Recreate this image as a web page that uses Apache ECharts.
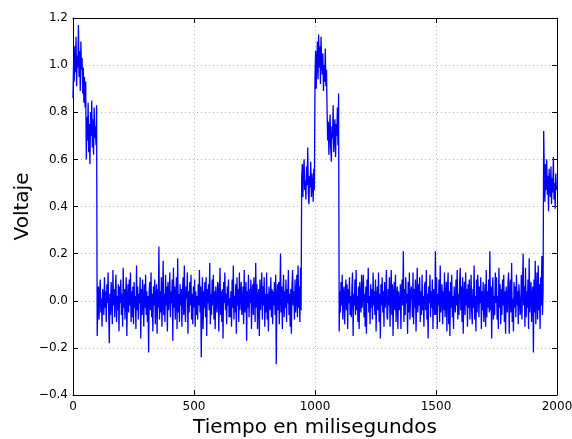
<!DOCTYPE html>
<html>
<head>
<meta charset="utf-8">
<script src="https://cdn.jsdelivr.net/npm/echarts@6/dist/echarts.min.js"></script>
<style>
  html, body { margin: 0; padding: 0; background: #fff; }
  #chart { width: 572px; height: 439px; }
</style>
</head>
<body>
<div id="chart"></div>
<script>
// Sampling step of the recorded signal, in milliseconds
const paso = 2.5;

// Start time (ms) of each stretch of samples below
const inicios = [0, 100, 945, 1100, 1945];

// Voltage samples, one every 2.5 ms
const pulsoInicial = [ // from t = 0
  0.86, 1.02, 0.93, 1.08, 0.97, 1.12, 0.91, 1.04, 0.99, 1.17, 0.95, 1.06, 0.89, 1.10, 0.98, 1.03,
  0.88, 0.99, 0.84, 0.95, 0.82, 0.93,
  0.60, 0.78, 0.68, 0.84, 0.63, 0.75, 0.58, 0.80, 0.70, 0.85, 0.65, 0.77, 0.62, 0.82, 0.69, 0.74, 0.66, 0.83
];
const reposo1 = [ // from t = 100
  -0.15, -0.02, 0.06, -0.08, 0.03, 0.09, -0.05, 0.01, -0.11, 0.05, 0.02, -0.06, 0.10, -0.03, 0.04, -0.09, 0.07, -0.01, 0.12, -0.04,
  -0.18, 0.03, -0.06, 0.08, 0.00, -0.10, 0.13, -0.02, 0.05, -0.07, 0.04, 0.11, -0.09, 0.02, -0.04, 0.07, -0.13, 0.06, -0.01, 0.09,
  -0.06, 0.03, -0.11, 0.14, -0.03, 0.05, -0.08, 0.02, 0.10, -0.15, 0.01, 0.07, -0.05, 0.09, -0.02, 0.12, -0.09, 0.04, -0.07, 0.06,
  -0.10, 0.08, -0.03, 0.02, -0.12, 0.15, -0.04, 0.06, -0.08, 0.03, -0.01, 0.10, -0.16, 0.05, -0.06, 0.09, 0.00, -0.11, 0.07, -0.03,
  0.11, -0.06, 0.04, -0.09, 0.02, -0.22, 0.05, 0.08, -0.04, 0.12, -0.07, 0.03, -0.13, 0.06, -0.02, 0.09, -0.10, 0.01, 0.07, -0.14,
  0.05, -0.03, 0.23, -0.08, 0.04, -0.05, 0.10, -0.11, 0.02, 0.17, -0.06, 0.03, -0.09, 0.11, -0.02, 0.06, -0.13, 0.08, -0.04, 0.01,
  0.12, -0.07, 0.04, -0.01, 0.09, -0.17, 0.14, -0.03, 0.06, -0.08, 0.02, 0.10, -0.12, 0.18, -0.05, 0.03, -0.09, 0.07, -0.02, 0.05,
  -0.11, 0.04, 0.10, -0.06, 0.15, -0.03, -0.09, 0.06, 0.01, 0.12, -0.14, 0.04, -0.05, 0.08, -0.02, 0.11, -0.08, 0.03, -0.10, 0.06,
  -0.03, 0.09, -0.11, 0.04, -0.06, 0.02, -0.08, 0.07, -0.02, 0.13, -0.05, 0.06, -0.24, 0.01, 0.10, -0.12, 0.04, -0.03, 0.08, -0.07,
  0.10, -0.15, 0.05, -0.01, 0.07, -0.04, 0.16, -0.10, 0.03, -0.06, 0.09, -0.02, 0.11, -0.08, 0.04, -0.12, 0.06, 0.00, -0.05, 0.08,
  0.07, -0.13, 0.02, 0.14, -0.06, 0.04, -0.09, 0.05, -0.16, 0.08, -0.01, 0.12, -0.04, 0.03, -0.10, 0.06, -0.02, 0.09, -0.07, 0.01,
  -0.07, 0.04, -0.11, 0.09, -0.03, 0.15, -0.08, 0.02, -0.05, 0.07, -0.14, 0.10, -0.02, 0.05, -0.09, 0.12, -0.04, 0.03, 0.08, -0.06,
  -0.02, 0.06, -0.10, 0.13, -0.05, 0.02, 0.08, -0.17, 0.04, -0.03, 0.11, -0.07, 0.05, -0.01, 0.09, -0.12, 0.03, 0.07, -0.06, 0.10,
  0.04, -0.09, 0.16, -0.03, 0.07, -0.12, 0.01, 0.05, -0.15, 0.09, -0.04, 0.02, 0.12, -0.08, 0.06, -0.02, 0.10, -0.11, 0.03, -0.05,
  0.12, -0.08, 0.03, -0.13, 0.06, 0.00, -0.04, 0.10, -0.07, 0.05, -0.10, 0.04, -0.02, 0.08, -0.06, 0.11, -0.27, 0.02, 0.07, -0.04,
  0.08, -0.10, 0.03, 0.20, -0.05, 0.06, -0.12, 0.02, 0.11, -0.07, 0.04, -0.03, 0.09, -0.09, 0.05, -0.01, 0.13, -0.06, 0.03, -0.11,
  0.05, -0.14, 0.07, 0.13, -0.02, 0.04, -0.08, 0.09, -0.05, 0.02, 0.11, -0.07, 0.15, -0.03, 0.06, -0.09, 0.14, -0.04
];
const escalon = [ // from t = 945
  0.52, 0.58, 0.44, 0.55, 0.60, 0.47, 0.51, 0.43, 0.57, 0.49, 0.65, 0.46, 0.41, 0.53, 0.48, 0.59, 0.44, 0.54, 0.50, 0.42, 0.56, 0.47,
  0.95, 1.06, 0.90, 1.02, 1.10, 0.94, 1.13, 0.99, 1.08, 0.92, 1.12, 1.01, 0.96, 1.05, 0.89, 1.00, 0.93, 1.07, 0.91, 0.98,
  0.80, 0.68, 0.76, 0.62, 0.72, 0.79, 0.65, 0.59, 0.74, 0.69, 0.83, 0.63, 0.71, 0.77, 0.61, 0.75, 0.70, 0.82, 0.66, 0.88
];
const reposo2 = [ // from t = 1100
  -0.13, 0.04, -0.05, 0.08, -0.02, 0.11, -0.08, 0.03, 0.06, -0.10, 0.01, 0.09, -0.04, 0.07, -0.12, 0.05, -0.01, 0.10, -0.06, 0.02,
  -0.07, 0.05, 0.12, -0.15, 0.03, -0.02, 0.09, -0.06, 0.13, -0.04, 0.02, -0.09, 0.06, -0.12, 0.08, 0.00, -0.05, 0.11, -0.03, 0.04,
  0.11, -0.07, 0.03, -0.11, 0.06, -0.14, 0.09, -0.01, 0.14, -0.05, 0.02, -0.10, 0.07, -0.03, 0.05, -0.08, 0.12, -0.02, 0.04, -0.06,
  0.09, -0.13, 0.01, 0.06, -0.04, 0.12, -0.09, 0.03, -0.16, 0.07, -0.02, 0.10, -0.05, 0.04, -0.11, 0.08, -0.03, 0.02, 0.13, -0.07,
  -0.08, 0.05, -0.02, 0.10, -0.11, 0.03, 0.13, -0.06, 0.07, -0.15, 0.02, 0.08, -0.04, 0.11, -0.09, 0.01, 0.06, -0.12, 0.04, -0.03,
  -0.04, 0.07, -0.12, 0.04, 0.09, -0.02, 0.21, -0.09, 0.05, -0.06, 0.10, -0.01, 0.03, -0.14, 0.08, -0.05, 0.12, -0.08, 0.02, 0.06,
  0.03, -0.07, 0.12, -0.10, 0.05, -0.03, 0.09, -0.13, 0.01, 0.14, -0.05, 0.07, -0.02, 0.10, -0.09, 0.04, -0.06, 0.11, -0.04, 0.02,
  -0.11, 0.06, 0.08, -0.04, 0.13, -0.08, 0.03, -0.16, 0.06, -0.01, 0.11, -0.07, 0.04, -0.03, 0.09, -0.12, 0.05, 0.01, -0.06, 0.21,
  -0.06, 0.10, -0.12, 0.03, -0.02, 0.09, -0.09, 0.15, -0.05, 0.01, 0.07, -0.10, 0.04, -0.04, 0.12, -0.07, 0.02, 0.08, -0.13, 0.05,
  0.12, -0.10, 0.04, -0.15, 0.08, -0.03, 0.11, -0.07, 0.02, -0.12, 0.06, 0.00, -0.05, 0.09, -0.02, 0.13, -0.08, 0.03, -0.06, 0.07,
  0.14, -0.04, 0.06, -0.09, 0.10, -0.14, 0.03, 0.08, -0.06, 0.12, -0.02, 0.05, -0.11, 0.07, -0.03, 0.09, -0.08, 0.01, 0.11, -0.05,
  -0.10, 0.05, -0.03, 0.15, -0.08, 0.02, -0.13, 0.09, -0.05, 0.11, 0.03, -0.07, 0.06, -0.01, 0.10, -0.12, 0.04, -0.04, 0.08, -0.09,
  -0.02, 0.07, -0.11, 0.13, -0.07, 0.04, -0.03, 0.09, -0.05, 0.21, -0.04, 0.06, -0.16, 0.04, 0.10, -0.08, 0.02, -0.06, 0.12, -0.01,
  0.10, -0.08, 0.02, -0.12, 0.14, -0.03, 0.07, -0.10, 0.05, -0.06, 0.09, -0.02, 0.11, -0.09, 0.04, -0.14, 0.06, 0.01, -0.05, 0.08,
  0.12, -0.14, 0.03, 0.09, -0.05, 0.16, -0.09, 0.01, -0.13, 0.08, -0.03, 0.06, -0.07, 0.11, -0.02, 0.04, -0.10, 0.07, 0.02, -0.06,
  -0.04, 0.11, -0.08, 0.05, 0.20, -0.02, 0.06, -0.11, 0.14, -0.07, 0.04, -0.03, 0.09, -0.12, 0.18, -0.05, 0.02, 0.08, -0.09, 0.03,
  0.06, -0.22, 0.09, -0.05, 0.17, -0.10, 0.03, 0.12, -0.08, 0.15, -0.04, 0.07, -0.12, 0.10, -0.02, 0.19, -0.06, 0.04
];
const pulsoFinal = [ // from t = 1945
  0.72, 0.55, 0.42, 0.58, 0.47, 0.60, 0.45, 0.53, 0.38, 0.56, 0.49, 0.44, 0.57, 0.41, 0.52, 0.46, 0.61, 0.43, 0.50, 0.39, 0.54, 0.47, 0.49
];

// Axis ticks
const ticksX = [0, 500, 1000, 1500, 2000];
const ticksY = [-0.4, -0.2, 0.0, 0.2, 0.4, 0.6, 0.8, 1.0, 1.2];

// Join the stretches into [time, voltage] pairs
const tramos = [pulsoInicial, reposo1, escalon, reposo2, pulsoFinal];
const puntos = [];
tramos.forEach((valores, k) => {
  valores.forEach((v, i) => puntos.push([inicios[k] + i * paso, v]));
});

const fuente = 'DejaVu Sans';
const fmtY = v => (v < 0 ? '\u2212' : '') + Math.abs(v).toFixed(1);

const gridLine = { show: true, lineStyle: { color: '#b8b8b8', type: [1, 3], width: 1 } };
const tick = { show: true, inside: true, length: 5, lineStyle: { color: '#000' } };
const line = { show: true, onZero: false, lineStyle: { color: '#000', width: 1 } };

const chart = echarts.init(document.getElementById('chart'), null, { renderer: 'canvas' });
chart.setOption({
  animation: false,
  backgroundColor: '#fff',
  grid: { left: 73, right: 15, top: 18, bottom: 44, containLabel: false, outerBoundsMode: 'none' },
  xAxis: [{
    type: 'value', min: ticksX[0], max: ticksX[ticksX.length - 1], interval: 500,
    name: 'Tiempo en milisegundos', nameLocation: 'middle', nameGap: 23, nameMoveOverlap: false,
    nameTextStyle: { fontFamily: fuente, fontSize: 20, color: '#000' },
    axisLine: line, axisTick: tick, splitLine: gridLine,
    axisLabel: { fontFamily: fuente, fontSize: 12, color: '#000', margin: 6, formatter: v => String(v) }
  }, {
    type: 'value', position: 'top', min: ticksX[0], max: ticksX[ticksX.length - 1], interval: 500,
    axisLine: line, axisTick: tick, splitLine: { show: false }, axisLabel: { show: false }
  }],
  yAxis: [{
    type: 'value', min: ticksY[0], max: ticksY[ticksY.length - 1], interval: 0.2,
    name: 'Voltaje', nameLocation: 'middle', nameGap: 40, nameMoveOverlap: false,
    nameTextStyle: { fontFamily: fuente, fontSize: 20, color: '#000' },
    axisLine: line, axisTick: tick, splitLine: gridLine,
    axisLabel: { fontFamily: fuente, fontSize: 12, color: '#000', margin: 5, formatter: fmtY }
  }, {
    type: 'value', position: 'right', min: ticksY[0], max: ticksY[ticksY.length - 1], interval: 0.2,
    axisLine: line, axisTick: tick, splitLine: { show: false }, axisLabel: { show: false }
  }],
  series: [{
    type: 'line',
    data: puntos,
    showSymbol: false,
    symbol: 'none',
    lineStyle: { color: '#0000ff', width: 1.3 },
    emphasis: { disabled: true }
  }]
});
</script>
</body>
</html>
